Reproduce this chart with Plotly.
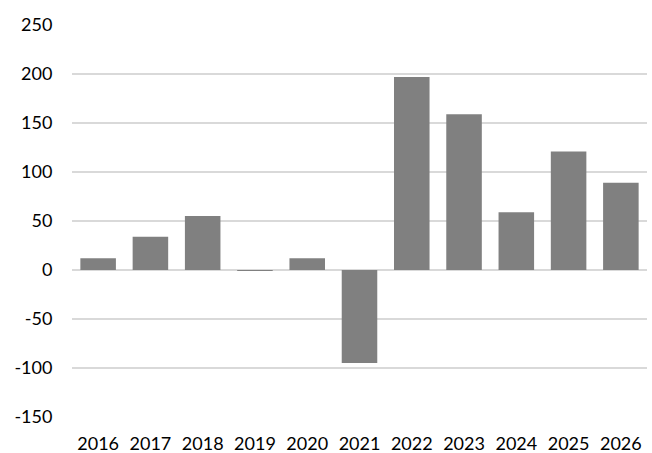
import plotly.graph_objects as go

years = ["2016", "2017", "2018", "2019", "2020", "2021", "2022", "2023", "2024", "2025", "2026"]
values = [12, 34, 55, -1, 12, -95, 197, 159, 59, 121, 89]
y_ticks = [-150, -100, -50, 0, 50, 100, 150, 200, 250]
y_tick_labels = [str(v) for v in y_ticks]

fig = go.Figure(
    go.Bar(x=years, y=values, marker=dict(color="#808080", line=dict(width=0)))
)
fig.update_layout(
    width=652,
    height=453,
    margin=dict(l=72, r=5, t=25, b=36, autoexpand=False),
    paper_bgcolor="white",
    plot_bgcolor="white",
    bargap=0.32,
    showlegend=False,
    font=dict(family="Lato", size=18, color="#000000"),
)
fig.update_xaxes(
    type="category",
    automargin=False,
    showgrid=False,
    showline=False,
    ticks="outside",
    ticklen=10,
    tickcolor="rgba(0,0,0,0)",
    tickfont=dict(size=18),
)
fig.update_yaxes(
    range=[-150, 250],
    automargin=False,
    tickvals=y_ticks,
    ticktext=y_tick_labels,
    showgrid=True,
    gridcolor="#d9d9d9",
    gridwidth=1.5,
    zeroline=True,
    zerolinecolor="#d9d9d9",
    zerolinewidth=1.5,
    ticks="outside",
    ticklen=15,
    tickcolor="rgba(0,0,0,0)",
    tickfont=dict(size=18),
)
fig.write_html(
    "out.html",
    config={"displayModeBar": False},
    post_script="document.body.style.margin='0';document.body.style.overflow='hidden';",
)
